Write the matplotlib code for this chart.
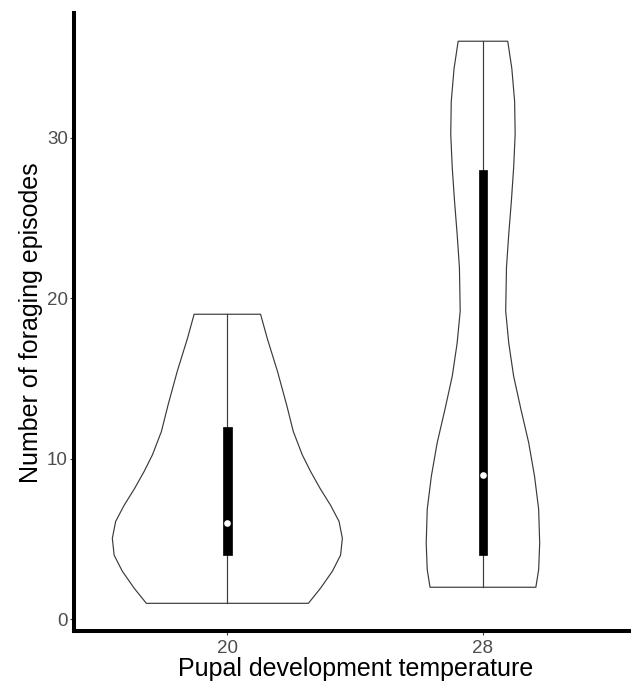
import matplotlib
matplotlib.use('Agg')
import matplotlib.pyplot as plt
import numpy as np

# groups on the x axis
temperatures = ['20', '28']

# violin outlines: y level and half width (in category units)
violin_y_20 = [1.0, 1.95, 3.0, 4.0, 5.05, 6.1, 7.1, 8.15, 9.2, 10.25, 11.7, 13.35, 15.45, 17.5, 19.0]
violin_hw_20 = [0.317, 0.365, 0.411, 0.443, 0.450, 0.437, 0.404, 0.363, 0.326, 0.293, 0.258, 0.232, 0.196, 0.156, 0.130]

violin_y_28 = [2.0, 3.1, 4.75, 6.85, 8.9, 11.0, 13.05, 15.15, 17.2, 19.2, 21.9, 24.0, 26.0, 28.1, 30.2, 32.25, 34.3, 36.0]
violin_hw_28 = [0.207, 0.218, 0.222, 0.218, 0.202, 0.179, 0.149, 0.120, 0.101, 0.089, 0.092, 0.101, 0.111, 0.120, 0.126, 0.124, 0.113, 0.097]

# boxplot summaries for each group
whisker_low = [1, 2]
q1 = [4, 4]
medians = [6, 9]
q3 = [12, 28]
whisker_high = [19, 36]

y_ticks = [0, 10, 20, 30]

violins = [(violin_y_20, violin_hw_20), (violin_y_28, violin_hw_28)]

plt.rcParams['font.family'] = ['Liberation Sans', 'DejaVu Sans']

fig = plt.figure(figsize=(6.31, 6.87), dpi=100)
ax = fig.add_axes([74 / 631, 0.0809, 562.3 / 631, 0.9000])

line_col = '#3a3a3a'
box_width = 0.034

for i, (ys, hws) in enumerate(violins):
    pos = i + 1
    ys = np.array(ys)
    hws = np.array(hws)
    # outline goes up the right side and back down the left side
    xs = np.concatenate([pos + hws, (pos - hws)[::-1]])
    yy = np.concatenate([ys, ys[::-1]])
    ax.fill(xs, yy, facecolor='white', edgecolor=line_col, linewidth=0.85,
            joinstyle='round', zorder=2)

    # whisker line from min to max
    ax.plot([pos, pos], [whisker_low[i], whisker_high[i]], color=line_col, linewidth=0.85, zorder=3)
    # black box between the quartiles
    ax.bar(pos, q3[i] - q1[i], bottom=q1[i], width=box_width, color='black',
           edgecolor='black', linewidth=0.5, zorder=4)
    # median as a white dot
    ax.plot(pos, medians[i], 'o', color='white', markersize=4.8, markeredgewidth=0, zorder=5)

ax.set_xlim(0.4, 2.6)
ax.set_ylim(-0.75, 37.75)
ax.set_xticks([1, 2])
ax.set_xticklabels(temperatures)
ax.set_yticks(y_ticks)

for side in ['top', 'right']:
    ax.spines[side].set_visible(False)
for side in ['left', 'bottom']:
    ax.spines[side].set_linewidth(2.9)
    ax.spines[side].set_color('black')
    ax.spines[side].set_capstyle('projecting')

ax.tick_params(axis='both', length=3, width=0.8, color=line_col, labelcolor='#4D4D4D', labelsize=13.5)
ax.tick_params(axis='y', pad=1.5)
ax.tick_params(axis='x', pad=3.5)

ax.set_xlabel('Pupal development temperature', fontsize=18, color='black', labelpad=0)
ax.set_ylabel('Number of foraging episodes', fontsize=18, color='black', labelpad=3)

fig.savefig('out.png', dpi=100)
